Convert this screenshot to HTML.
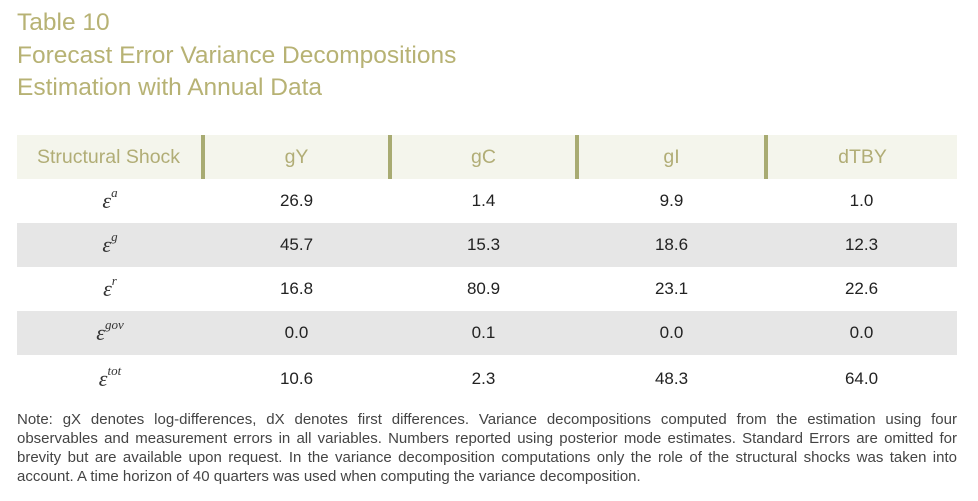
<!DOCTYPE html>
<html><head><meta charset="utf-8"><style>
body{margin:0;width:978px;height:501px;background:#fff;font-family:"Liberation Sans",sans-serif;overflow:hidden;position:relative}
.title{position:absolute;left:17px;top:7px;color:#b7b274;font-size:24.5px;line-height:32.5px}
table{position:absolute;left:17px;top:135px;width:940px;border-collapse:collapse;table-layout:fixed}
th{background:#f4f5ec;color:#b1ad76;font-weight:normal;font-size:19.5px;height:44px;padding:0;text-align:center}
th.sep{border-left:4px solid #a8ab72}
td{text-align:center;font-size:17px;color:#222;height:44px;padding:0}
tr.g td{background:#e6e6e6}
.eps{font-family:"Liberation Serif",serif;font-style:italic;font-size:22px;color:#333}
.eps sup{font-size:13px;position:relative;top:-3px}
.note{position:absolute;left:17px;top:410px;width:940px;font-size:15px;line-height:19px;color:#444}
.note div{text-align:justify;text-align-last:justify;white-space:nowrap;overflow:visible}
.note div.last{text-align-last:left}
</style></head><body>
<div class="title">Table 10<br>Forecast Error Variance Decompositions<br>Estimation with Annual Data</div>
<table>
<colgroup><col style="width:186px"><col style="width:187px"><col style="width:187px"><col style="width:189px"><col style="width:191px"></colgroup>
<tr><th style="text-align:left;padding-left:20px">Structural Shock</th><th class="sep">gY</th><th class="sep">gC</th><th class="sep">gI</th><th class="sep">dTBY</th></tr>
<tr><td><span class="eps">ε<sup>a</sup></span></td><td>26.9</td><td>1.4</td><td>9.9</td><td>1.0</td></tr>
<tr class="g"><td><span class="eps">ε<sup>g</sup></span></td><td>45.7</td><td>15.3</td><td>18.6</td><td>12.3</td></tr>
<tr><td><span class="eps">ε<sup>r</sup></span></td><td>16.8</td><td>80.9</td><td>23.1</td><td>22.6</td></tr>
<tr class="g"><td><span class="eps">ε<sup>gov</sup></span></td><td>0.0</td><td>0.1</td><td>0.0</td><td>0.0</td></tr>
<tr><td style="height:48px"><span class="eps">ε<sup>tot</sup></span></td><td>10.6</td><td>2.3</td><td>48.3</td><td>64.0</td></tr>
</table>
<div class="note">
<div>Note: gX denotes log-differences, dX denotes first differences. Variance decompositions computed from the estimation using four</div>
<div>observables and measurement errors in all variables. Numbers reported using posterior mode estimates. Standard Errors are omitted for</div>
<div>brevity but are available upon request. In the variance decomposition computations only the role of the structural shocks was taken into</div>
<div class="last">account. A time horizon of 40 quarters was used when computing the variance decomposition.</div>
</div>
</body></html>
